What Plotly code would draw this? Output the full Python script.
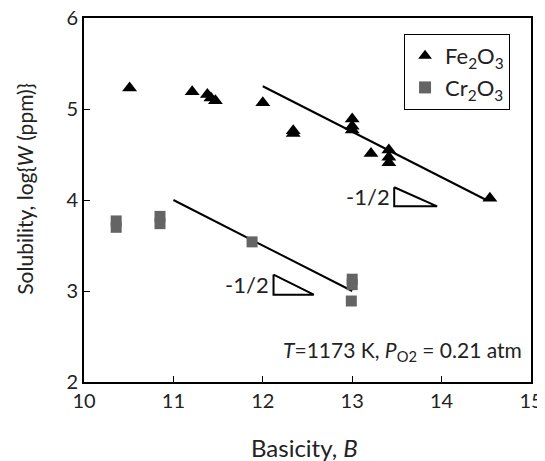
import plotly.graph_objects as go

# Fe2O3 data
fe_basicity = [10.51, 11.21, 11.38, 11.42, 11.47, 12.00, 12.34, 12.34, 13.00, 13.00, 13.00, 13.21, 13.41, 13.41, 13.41, 14.54]
fe_log_w    = [5.23, 5.19, 5.16, 5.12, 5.09, 5.07, 4.76, 4.73, 4.89, 4.81, 4.77, 4.51, 4.55, 4.47, 4.41, 4.02]

# Cr2O3 data
cr_basicity = [10.36, 10.36, 10.85, 10.85, 11.88, 13.00, 13.00, 12.99]
cr_log_w    = [3.77, 3.70, 3.82, 3.74, 3.54, 3.13, 3.07, 2.89]

# Fitted slope lines
fe_fit_x = [12.0, 14.5]
fe_fit_y = [5.25, 4.0]
cr_fit_x = [11.0, 13.0]
cr_fit_y = [4.0, 3.0]

# Slope indicator triangles (-1/2)
fe_tri_x = [13.47, 13.47, 13.95, 13.47]
fe_tri_y = [4.14, 3.93, 3.93, 4.14]
cr_tri_x = [12.12, 12.12, 12.57, 12.12]
cr_tri_y = [3.18, 2.96, 2.96, 3.18]

X_TITLE = "Basicity, <i>B</i>"
Y_TITLE = "Solubility, log{<i>W</i> (ppm)}"

FONT = "Lato, 'Open Sans', sans-serif"
TXT = "#222222"

fig = go.Figure()
fig.add_trace(go.Scatter(x=fe_fit_x, y=fe_fit_y, mode="lines", line=dict(color="black", width=2), showlegend=False, hoverinfo="skip"))
fig.add_trace(go.Scatter(x=cr_fit_x, y=cr_fit_y, mode="lines", line=dict(color="black", width=2), showlegend=False, hoverinfo="skip"))
fig.add_trace(go.Scatter(x=fe_tri_x, y=fe_tri_y, mode="lines", line=dict(color="black", width=2), showlegend=False, hoverinfo="skip"))
fig.add_trace(go.Scatter(x=cr_tri_x, y=cr_tri_y, mode="lines", line=dict(color="black", width=2), showlegend=False, hoverinfo="skip"))

fig.add_trace(go.Scatter(x=fe_basicity, y=fe_log_w, mode="markers", name="Fe<sub>2</sub>O<sub>3</sub>",
                         marker=dict(symbol="triangle-up", size=13, color="black")))
fig.add_trace(go.Scatter(x=cr_basicity, y=cr_log_w, mode="markers", name="Cr<sub>2</sub>O<sub>3</sub>",
                         marker=dict(symbol="square", size=11, color="#646464")))

fig.add_annotation(x=13.44, y=4.04, text="-1/2", showarrow=False, xanchor="right", yanchor="middle",
                   font=dict(size=22, color=TXT, family=FONT))
fig.add_annotation(x=12.09, y=3.07, text="-1/2", showarrow=False, xanchor="right", yanchor="middle",
                   font=dict(size=22, color=TXT, family=FONT))
fig.add_annotation(x=0.985, y=0.085, xref="paper", yref="paper", text="<i>T</i>=1173 K, <i>P</i><sub>O2</sub> = 0.21 atm",
                   showarrow=False, xanchor="right", yanchor="middle", font=dict(size=21, color=TXT, family=FONT))

# axis titles
fig.add_annotation(x=0.494, y=-0.18, xref="paper", yref="paper", text=X_TITLE, showarrow=False,
                   xanchor="center", yanchor="middle", font=dict(size=24, color=TXT, family=FONT))
fig.add_annotation(x=-0.135, y=0.53, xref="paper", yref="paper", text=Y_TITLE, showarrow=False, textangle=-90,
                   xanchor="center", yanchor="middle", font=dict(size=21, color=TXT, family=FONT))

fig.update_layout(
    width=545, height=461,
    margin=dict(l=76, r=22, t=10, b=87),
    paper_bgcolor="white", plot_bgcolor="white",
    font=dict(family=FONT, size=20, color=TXT),
    showlegend=True,
    legend=dict(x=0.716, y=0.956, xanchor="left", yanchor="top", bgcolor="white",
                bordercolor="black", borderwidth=1, font=dict(size=22, family=FONT, color=TXT),
                itemsizing="constant", tracegroupgap=4),
    xaxis=dict(range=[10, 15], dtick=1, showline=True, linecolor="black", linewidth=2, mirror=True,
               ticks="inside", ticklen=6, tickcolor="black", showgrid=False, zeroline=False, automargin=False,
               tickfont=dict(size=20), ticklabeloverflow="allow"),
    yaxis=dict(range=[2, 6], dtick=1, showline=True, linecolor="black", linewidth=2, mirror=True,
               ticks="inside", ticklen=6, tickcolor="black", showgrid=False, zeroline=False, automargin=False,
               tickfont=dict(size=20), ticklabeloverflow="allow"),
)

fig.write_html("out.html")
